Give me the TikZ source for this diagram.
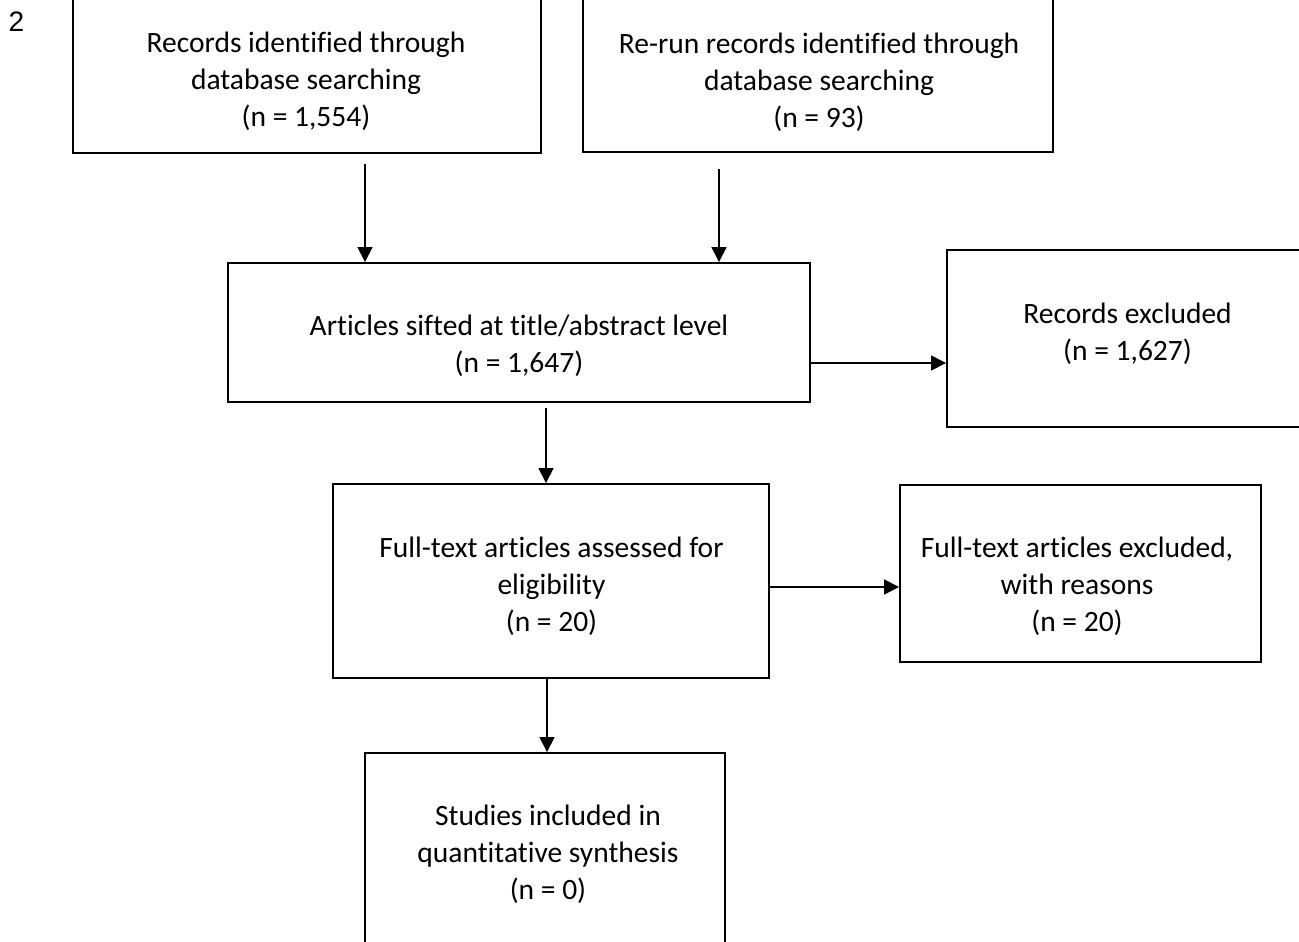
\documentclass[tikz,border=0pt]{standalone}
\usepackage{fontspec}
\setmainfont{Carlito}[Ligatures=NoCommon]
\newfontfamily\pagenofont{Liberation Sans}
\usetikzlibrary{arrows.meta}
\newlength\pxu
\setlength\pxu{0.02cm}
\tikzset{
  box/.style={draw, line width=1.1pt, inner sep=0pt},
  caption/.style={align=center, inner sep=0pt, font=\fontsize{16.8}{21.06}\selectfont},
  flow/.style={line width=0.9pt, -{Triangle[length=0.3cm, width=0.3cm]}}
}
\begin{document}
\begin{tikzpicture}[x=0.02cm, y=-0.02cm]
\useasboundingbox (0,0) rectangle (1299,941);
\clip (0,0) rectangle (1299,941);
% boxes
\node[box, minimum width=468\pxu, minimum height=173\pxu] (found) at (307,66.5) {};
\node[box, minimum width=470\pxu, minimum height=172\pxu] (rerun) at (818,66) {};
\node[box, minimum width=582\pxu, minimum height=139\pxu] (sifted) at (519,332.5) {};
\node[box, minimum width=373\pxu, minimum height=177\pxu] (excl) at (1133.5,338.5) {};
\node[box, minimum width=436\pxu, minimum height=194\pxu] (full) at (551,581) {};
\node[box, minimum width=361\pxu, minimum height=177\pxu] (fullexcl) at (1080.5,573.5) {};
\node[box, minimum width=360\pxu, minimum height=207\pxu] (incl) at (545,856.5) {};
% texts
\node[font=\pagenofont\fontsize{16}{18}\selectfont] (pageno) at (16.5,22) {2};
\node[caption] (found text) at (306,81.5) {Records identified through\\database searching\\(n = 1,554)};
\node[caption] (rerun text) at (819,82) {Re-run records identified through\\database searching\\(n = 93)};
\node[caption] (sifted text) at (519,345.5) {Articles sifted at title/abstract level\\(n = 1,647)};
\node[caption] (excl text) at (1127.5,333.5) {Records excluded\\(n = 1,627)};
\node[caption] (full text) at (551.5,586) {Full-text articles assessed for\\eligibility\\(n = 20)};
\node[caption] (fullexcl text) at (1077,586.5) {Full-text articles excluded,\\with reasons\\(n = 20)};
\node[caption] (incl text) at (548,854.5) {Studies included in\\quantitative synthesis\\(n = 0)};
% arrows
\coordinate (a1) at ([shift={(58,10)}]found.south);
\coordinate (a2) at ([shift={(-99,16)}]rerun.south);
\coordinate (a3) at ([shift={(27,5)}]sifted.south);
\coordinate (a4) at ([shift={(-4,0)}]full.south);
\coordinate (a5) at ([shift={(0,30.5)}]sifted.east);
\coordinate (a6) at ([shift={(0,6)}]full.east);
\draw[flow] (a1) -- (a1 |- sifted.north);
\draw[flow] (a2) -- (a2 |- sifted.north);
\draw[flow] (a3) -- (a3 |- full.north);
\draw[flow] (a4) -- (a4 |- incl.north);
\draw[flow] (a5) -- (a5 -| excl.west);
\draw[flow] (a6) -- (a6 -| fullexcl.west);
\end{tikzpicture}
\end{document}
